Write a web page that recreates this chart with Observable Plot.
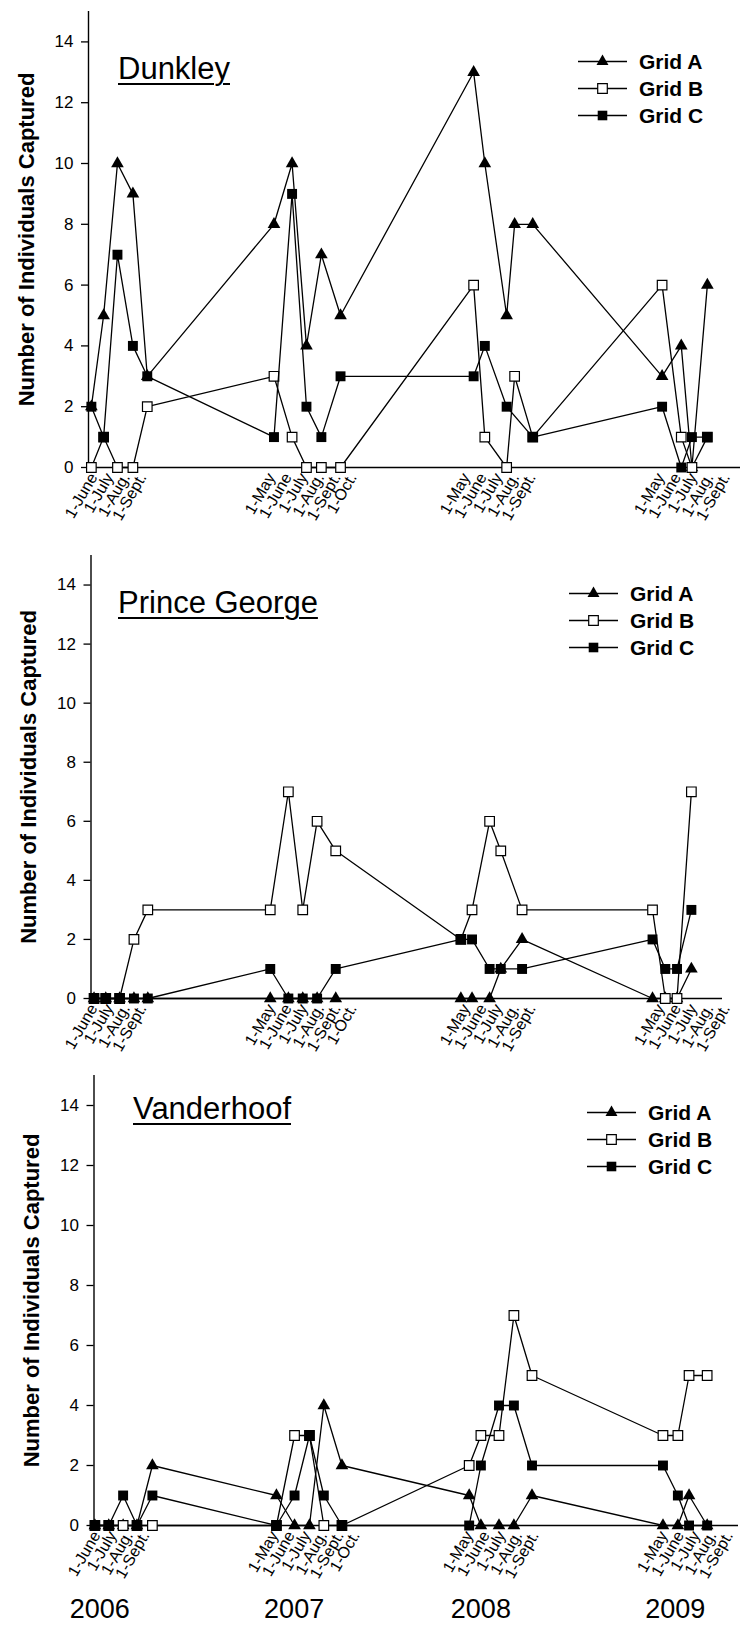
<!DOCTYPE html>
<html><head><meta charset="utf-8">
<script src="https://cdn.jsdelivr.net/npm/d3@7"></script>
<script src="https://cdn.jsdelivr.net/npm/@observablehq/plot@0.6"></script>
<style>
body{margin:0;background:#fff;font-family:"Liberation Sans",Arial,sans-serif;color:#000}
#wrap{position:relative;width:743px}
.panel{position:relative;width:743px}
.panel svg{display:block;overflow:visible}
.title{position:absolute;font-size:31px;line-height:31px;text-decoration:underline;text-decoration-thickness:2px;text-underline-offset:4px;white-space:nowrap}
.legend{position:absolute}
.legend .row{display:flex;align-items:center;height:27px}
.legend .row span{font-weight:bold;font-size:21px;line-height:27px;margin-left:12px;white-space:nowrap}
</style></head><body><div id="wrap"></div>
<script>
// ---------- data ----------
const siteNames = ["Dunkley", "Prince George", "Vanderhoof"];
const gridNames = ["Grid A", "Grid B", "Grid C"];
const yLabel = "Number of Individuals Captured";
const yTicks = [0, 2, 4, 6, 8, 10, 12, 14];
const tickDates = ["2006-06-01","2006-07-01","2006-08-01","2006-09-01",
  "2007-05-01","2007-06-01","2007-07-01","2007-08-01","2007-09-01","2007-10-01",
  "2008-05-01","2008-06-01","2008-07-01","2008-08-01","2008-09-01",
  "2009-05-01","2009-06-01","2009-07-01","2009-08-01","2009-09-01"];
const tickLabels = ["1-May", "1-June", "1-July", "1-Aug.", "1-Sept.", "1-Oct."];
const yearLabels = ["2006", "2007", "2008", "2009"];

const dunkleyDates = ["2006-05-28","2006-06-20","2006-07-16","2006-08-14","2006-09-10",
  "2007-05-06","2007-06-09","2007-07-06","2007-08-03","2007-09-08",
  "2008-05-15","2008-06-05","2008-07-16","2008-07-31","2008-09-03",
  "2009-05-04","2009-06-09","2009-06-29","2009-07-28"];
const dunkleyA = [2,5,10,9,3, 8,10,4,7,5, 13,10,5,8,8, 3,4,0,6];
const dunkleyB = [0,1,0,0,2, 3,1,0,0,0, 6,1,0,3,1, 6,1,0,1];
const dunkleyC = [2,1,7,4,3, 1,9,2,1,3, 3,4,2,null,1, 2,0,1,1];

const princeGeorgeDates = ["2006-06-02","2006-06-24","2006-07-20","2006-08-16","2006-09-11",
  "2007-04-29","2007-06-02","2007-06-29","2007-07-26","2007-08-30",
  "2008-04-21","2008-05-12","2008-06-14","2008-07-05","2008-08-14",
  "2009-04-16","2009-05-10","2009-06-01","2009-06-28"];
const princeGeorgeA = [0,0,0,0,0, 0,0,0,0,0, 0,0,0,1,2, 0,0,0,1];
const princeGeorgeB = [0,0,0,2,3, 3,7,3,6,5, 2,3,6,5,3, 3,0,0,7];
const princeGeorgeC = [0,0,0,0,0, 1,0,0,0,1, 2,2,1,1,1, 2,1,1,3];

const vanderhoofDates = ["2006-05-29","2006-06-24","2006-07-21","2006-08-16","2006-09-14",
  "2007-05-05","2007-06-08","2007-07-06","2007-08-02","2007-09-05",
  "2008-05-01","2008-05-23","2008-06-26","2008-07-24","2008-08-27",
  "2009-04-30","2009-05-28","2009-06-18","2009-07-22"];
const vanderhoofA = [0,0,0,0,2, 1,0,0,4,2, 1,0,0,0,1, 0,0,1,0];
const vanderhoofB = [0,0,0,0,0, 0,3,3,0,0, 2,3,3,7,5, 3,3,5,5];
const vanderhoofC = [0,0,1,0,1, 0,1,3,1,0, 0,2,4,4,2, 2,1,0,0];

// ---------- layout ----------
const W = 743;
const DAY = 864e5;
const base = Date.UTC(2006, 5, 1);   // reference date for the time scale
const pxPerDay = 0.5324;
const panels = [
  {name: siteNames[0], dates: dunkleyDates, A: dunkleyA, B: dunkleyB, C: dunkleyC,
   height: 540, mt: 11, mb: 73, ml: 88, mr: 3, shift: 0,
   title: [118, 52.8], legend: [578, 47.5], years: false},
  {name: siteNames[1], dates: princeGeorgeDates, A: princeGeorgeA, B: princeGeorgeB, C: princeGeorgeC,
   height: 520, mt: 15, mb: 62, ml: 90.5, mr: 21, shift: 0,
   title: [118, 46.5], legend: [569, 39.5], years: false},
  {name: siteNames[2], dates: vanderhoofDates, A: vanderhoofA, B: vanderhoofB, C: vanderhoofC,
   height: 578, mt: 15, mb: 113, ml: 93.5, mr: 5, shift: 3,
   title: [133, 33.2], legend: [587, 39], years: true}
];

const ticks = tickDates.map(d => new Date(d));
const fmt = d => tickLabels[d.getUTCMonth() - 4];
const yearMid = y => new Date(d3.mean(ticks.filter(t => t.getUTCFullYear() === +y), t => +t));

function series(dates, vals, grid) {
  return dates.map((d, i) => ({date: new Date(d), value: vals[i], grid}))
              .filter(d => d.value !== null && d.value !== undefined);
}

function swatch(kind) {
  const size = kind === "tri" ? 62 : 92;
  const p = d3.symbol(kind === "tri" ? d3.symbolTriangle : d3.symbolSquare, size)();
  const fill = kind === "open" ? "#fff" : "#000";
  const stroke = kind === "open" ? "#000" : "none";
  return `<svg width="49" height="27"><line x1="0" x2="49" y1="13.5" y2="13.5" stroke="#000" stroke-width="1.3"/>` +
    `<path d="${p}" transform="translate(24.5,13.5)" fill="${fill}" stroke="${stroke}" stroke-width="1.2"/></svg>`;
}

const wrap = document.getElementById("wrap");
for (const P of panels) {
  const anchorPx = 93 + P.shift;
  const x0 = new Date(base + (P.ml - anchorPx) / pxPerDay * DAY);
  const x1 = new Date(base + (W - P.mr - anchorPx) / pxPerDay * DAY);
  const sA = series(P.dates, P.A, gridNames[0]);
  const sB = series(P.dates, P.B, gridNames[1]);
  const sC = series(P.dates, P.C, gridNames[2]);
  const marks = [
    Plot.ruleY([0], {stroke: "#000", strokeWidth: 1.4}),
    Plot.ruleX([x0], {stroke: "#000", strokeWidth: 1.4}),
    Plot.axisY({ticks: yTicks, tickSize: 7, tickPadding: 8, fontSize: 17, strokeWidth: 1.3, label: null}),
    Plot.axisX({ticks, tickFormat: fmt, tickRotate: -60, tickSize: 0, tickPadding: 7, fontSize: 16, label: null}),
    Plot.text([yLabel], {frameAnchor: "left", textAnchor: "middle", lineAnchor: "middle", rotate: -90, dx: -62, fontSize: 22, fontWeight: "bold", text: d => d}),
    Plot.line(sA, {x: "date", y: "value", stroke: "#000", strokeWidth: 1.3}),
    Plot.dot(sA, {x: "date", y: "value", symbol: "triangle", r: 4.7, fill: "#000", stroke: "none"}),
    Plot.line(sB, {x: "date", y: "value", stroke: "#000", strokeWidth: 1.3}),
    Plot.dot(sB, {x: "date", y: "value", symbol: "square", r: 5.4, fill: "#fff", stroke: "#000", strokeWidth: 1.2}),
    Plot.line(sC, {x: "date", y: "value", stroke: "#000", strokeWidth: 1.3}),
    Plot.dot(sC, {x: "date", y: "value", symbol: "square", r: 5.6, fill: "#000", stroke: "none"})
  ];
  if (P.years) {
    marks.push(Plot.text(yearLabels, {x: d => yearMid(d), frameAnchor: "bottom", dy: 92, dx: -21, fontSize: 27, text: d => d}));
  }
  const chart = Plot.plot({
    width: W, height: P.height,
    marginTop: P.mt, marginBottom: P.mb, marginLeft: P.ml, marginRight: P.mr,
    style: {fontFamily: "'Liberation Sans', Arial, sans-serif", color: "#000", background: "#fff", overflow: "visible"},
    x: {type: "utc", domain: [x0, x1]},
    y: {domain: [0, 15]},
    marks
  });
  const div = document.createElement("div");
  div.className = "panel";
  div.style.height = P.height + "px";
  div.appendChild(chart);
  const t = document.createElement("div");
  t.className = "title";
  t.style.left = P.title[0] + "px"; t.style.top = P.title[1] + "px";
  t.textContent = P.name;
  div.appendChild(t);
  const lg = document.createElement("div");
  lg.className = "legend";
  lg.style.left = P.legend[0] + "px"; lg.style.top = P.legend[1] + "px";
  const kinds = ["tri", "open", "fill"];
  lg.innerHTML = gridNames.map((g, i) => `<div class="row">${swatch(kinds[i])}<span>${g}</span></div>`).join("");
  div.appendChild(lg);
  wrap.appendChild(div);
}
</script></body></html>
